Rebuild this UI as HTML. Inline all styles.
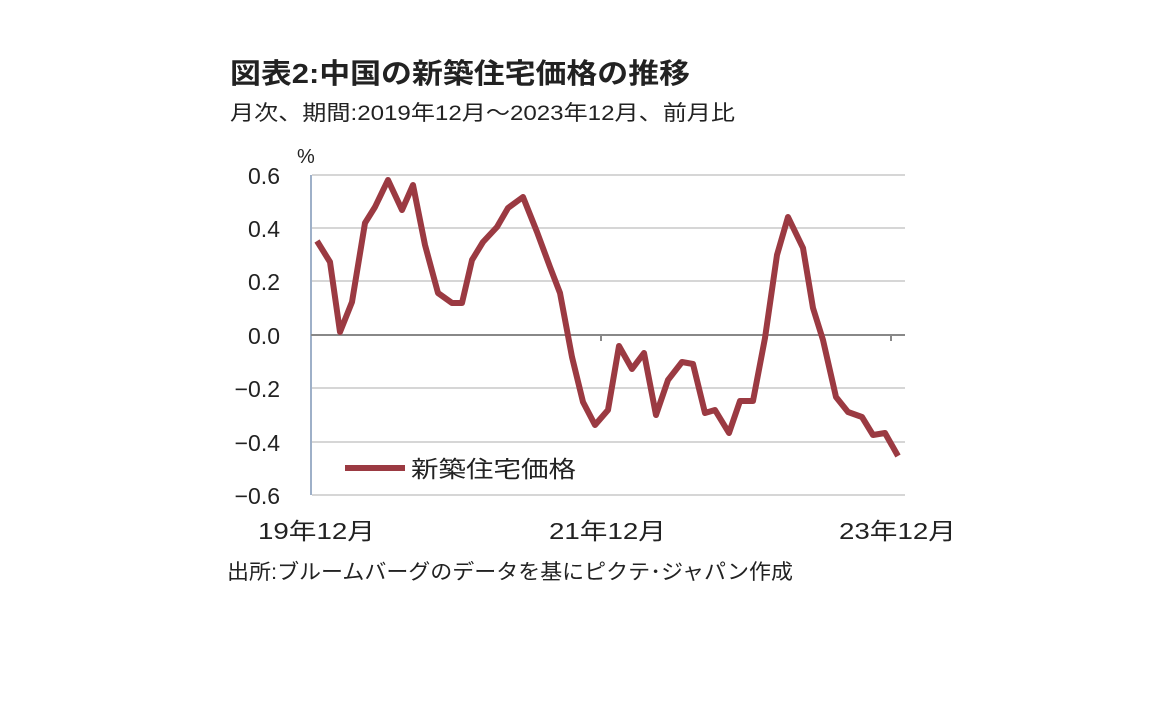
<!DOCTYPE html>
<html><head><meta charset="utf-8"><style>
body{margin:0;width:1152px;height:720px;background:#fff;overflow:hidden}
svg{display:block}
text{font-family:"Liberation Sans","Noto Sans CJK JP",sans-serif;fill:#222}
</style></head><body>
<svg width="1152" height="720" viewBox="0 0 1152 720">
<text x="230" y="83" font-size="28" font-weight="bold" fill="#333" textLength="460" lengthAdjust="spacingAndGlyphs">図表2:中国の新築住宅価格の推移</text>
<text x="230" y="120" font-size="21" fill="#444" textLength="505" lengthAdjust="spacingAndGlyphs">月次、期間:2019年12月～2023年12月、前月比</text>
<text x="297" y="163" font-size="20">%</text>
<g stroke="#d6d6d6" stroke-width="2">
<line x1="312" y1="175" x2="905" y2="175"/><line x1="312" y1="228" x2="905" y2="228"/>
<line x1="312" y1="281" x2="905" y2="281"/><line x1="312" y1="388" x2="905" y2="388"/>
<line x1="312" y1="442" x2="905" y2="442"/><line x1="312" y1="495" x2="905" y2="495"/>
</g>
<line x1="311" y1="175" x2="311" y2="495" stroke="#9eb0c8" stroke-width="2"/>
<line x1="311" y1="335" x2="905" y2="335" stroke="#888" stroke-width="2"/>
<line x1="601" y1="335" x2="601" y2="341" stroke="#888" stroke-width="2"/>
<line x1="891" y1="335" x2="891" y2="341" stroke="#888" stroke-width="2"/>
<g font-size="23" text-anchor="end">
<text x="280" y="184">0.6</text><text x="280" y="237">0.4</text><text x="280" y="290">0.2</text>
<text x="280" y="344">0.0</text><text x="280" y="397">−0.2</text><text x="280" y="451">−0.4</text><text x="280" y="504">−0.6</text>
</g>
<polyline fill="none" stroke="#9b3a42" stroke-width="6" stroke-linejoin="round" points="317,241 330,262 340,332 352,302 365,223 375,207 388,180 402,210 413,185 425,245 438,293 452,303 462,303 472,260 483,242 497,227 508,208 523,197 537,232 550,267 560,293 572,357 583,402 595,425 608,410 619,346 632,369 644,353 656,415 668,380 682,362 693,364 705,413 715,410 729,433 740,401 753,401 765,338 777,255 788,217 803,248 813,308 823,340 836,397 848,412 862,417 873,435 885,433 898,456"/>
<line x1="345" y1="468" x2="405" y2="468" stroke="#9b3a42" stroke-width="6"/>
<text x="411" y="477" font-size="23" textLength="165" lengthAdjust="spacingAndGlyphs">新築住宅価格</text>
<g font-size="23">
<text x="258" y="539" textLength="117" lengthAdjust="spacingAndGlyphs">19年12月</text>
<text x="549" y="539" textLength="117" lengthAdjust="spacingAndGlyphs">21年12月</text>
<text x="839" y="539" textLength="117" lengthAdjust="spacingAndGlyphs">23年12月</text>
</g>
<text x="227" y="579" font-size="21" fill="#333" textLength="566" lengthAdjust="spacingAndGlyphs">出所:ブルームバーグのデータを基にピクテ･ジャパン作成</text>
</svg>
</body></html>
